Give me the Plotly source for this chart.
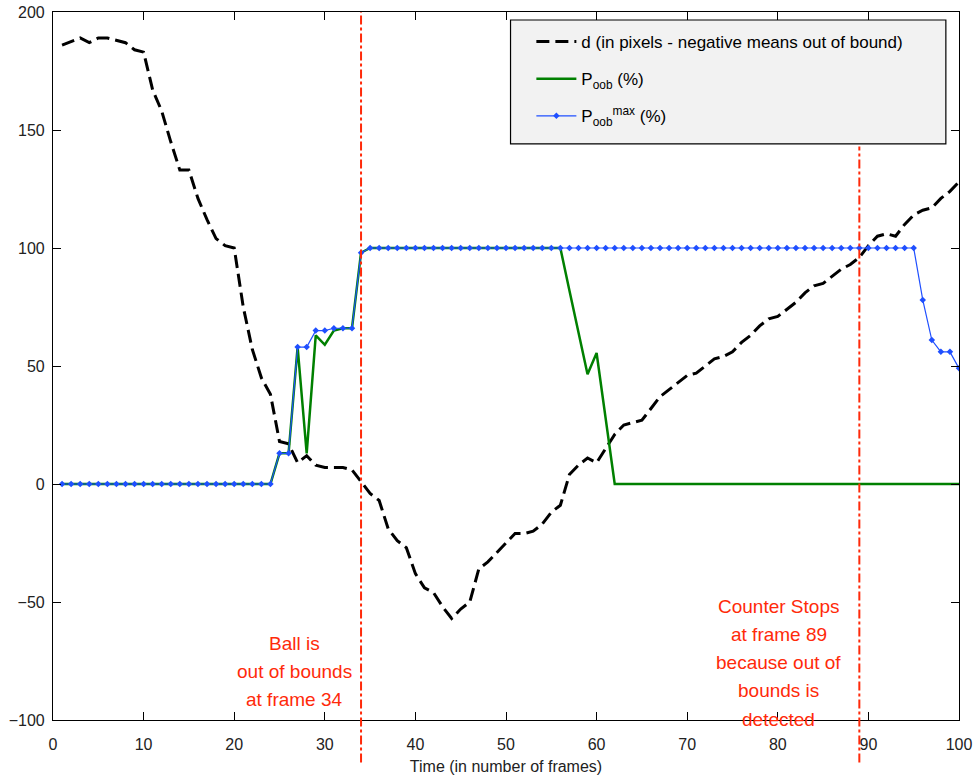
import plotly.graph_objects as go

# Frame index
frames = list(range(1, 101))

# d: distance to the boundary in pixels (negative = out of bound)
d_pixels = [
    186, 187.5, 189, 187, 189, 189, 188, 187, 184, 183,
    167, 158, 145, 133, 133, 121, 112, 104, 101, 100,
    75, 57, 45, 38, 18, 17, 9, 12, 8, 7,
    7, 7, 6, 1, -4, -7, -19, -24, -27, -38,
    -44, -46, -52, -57, -53, -50, -36, -33, -29, -25,
    -21, -21, -20, -17, -12, -9, 4, 8, 11, 9,
    15, 21, 25, 26, 27, 32, 37, 40, 43, 46,
    47, 50, 53, 54, 56, 60, 63, 67, 70, 71,
    74, 77, 81, 84, 85, 88, 91, 93, 96, 101,
    105, 106, 105, 110, 114, 116, 117, 121, 124, 128,
]

# P_oob (%)
p_oob = (
    [0] * 24
    + [13, 13, 58, 13, 63, 59, 65, 66, 66, 98]
    + [100] * 22
    + [82, 64, 46.5, 55.5, 27]
    + [0] * 39
)

# P_oob max (%)
p_oob_max = (
    [0] * 24
    + [13, 13, 58, 58, 65, 65, 66, 66, 66, 98]
    + [100] * 61
    + [78, 61, 56, 56, 49]
)

# Event frames marked on the chart
ball_out_frame = 34
counter_stop_frame = 89

ball_out_lines = ["Ball is", "out of bounds", "at frame 34"]
counter_lines = ["Counter Stops", "at frame 89", "because out of", "bounds is", "detected"]

FONT = "Liberation Sans Narrow, Arial Narrow, Liberation Sans, sans-serif"
RED = "#ff2a0a"

fig = go.Figure()

fig.add_trace(go.Scatter(
    x=frames, y=d_pixels, mode="lines",
    name="d (in pixels - negative means out of bound)", legendgroup="d",
    line=dict(color="black", width=3, dash="13px,6px"),
))
fig.add_trace(go.Scatter(
    x=frames, y=p_oob, mode="lines",
    name="P<sub>oob</sub> (%)", legendgroup="p",
    line=dict(color="#008000", width=2.5),
))
fig.add_trace(go.Scatter(
    x=frames, y=p_oob_max, mode="lines+markers",
    name="P<sub>oob</sub><sup>max</sup> (%)", legendgroup="pmax",
    line=dict(color="#1f4fff", width=1.2),
    marker=dict(symbol="diamond", size=5, color="#1f4fff"),
))

# Vertical dash-dot event markers (extend below the axis)
fig.add_shape(type="line", xref="x", yref="paper",
              x0=ball_out_frame, x1=ball_out_frame, y0=-0.06, y1=1.0,
              line=dict(color=RED, width=2, dash="dashdot"))
fig.add_shape(type="line", xref="x", yref="paper",
              x0=counter_stop_frame, x1=counter_stop_frame, y0=-0.06, y1=0.81,
              line=dict(color=RED, width=2, dash="dashdot"))

# Legend frame
fig.add_shape(type="rect", xref="paper", yref="paper",
              x0=0.505, x1=0.9855, y0=0.8136, y1=0.9887,
              fillcolor="#f2f2f2", line=dict(color="black", width=1.2),
              layer="below")

# Text annotations
for i, t in enumerate(ball_out_lines):
    fig.add_annotation(x=26.7, y=-67.4 - i * 12.0, xref="x", yref="y",
                       text=t, showarrow=False,
                       font=dict(family=FONT, size=19, color=RED))
for i, t in enumerate(counter_lines):
    fig.add_annotation(x=80.1, y=-51.7 - i * 12.0, xref="x", yref="y",
                       text=t, showarrow=False,
                       font=dict(family=FONT, size=19, color=RED))

axis_common = dict(
    showline=True, linecolor="black", linewidth=1.2, mirror="ticks",
    ticks="inside", ticklen=8, tickcolor="black", tickwidth=1,
    showgrid=False, zeroline=False, automargin=False,
    tickfont=dict(family=FONT, size=16, color="#222222"),
)

fig.update_xaxes(range=[0, 100], dtick=10, tick0=0, ticklabelstandoff=10,
                 title=dict(text="Time (in number of frames)",
                            font=dict(family=FONT, size=16, color="#222222"),
                            standoff=8),
                 **axis_common)
fig.update_yaxes(range=[-100, 200], dtick=50, tick0=0, ticklabelstandoff=4,
                 **axis_common)

fig.update_layout(
    width=975, height=783,
    margin=dict(l=53, r=16, t=12, b=63),
    paper_bgcolor="white", plot_bgcolor="white",
    showlegend=True,
    legend=dict(
        x=0.528, y=0.983, xanchor="left", yanchor="top",
        bgcolor="rgba(0,0,0,0)", borderwidth=0,
        font=dict(family="Liberation Sans, Arial, sans-serif", size=17, color="black"),
        traceorder="grouped", tracegroupgap=12, itemwidth=40,
    ),
)

fig.write_html("out.html")
